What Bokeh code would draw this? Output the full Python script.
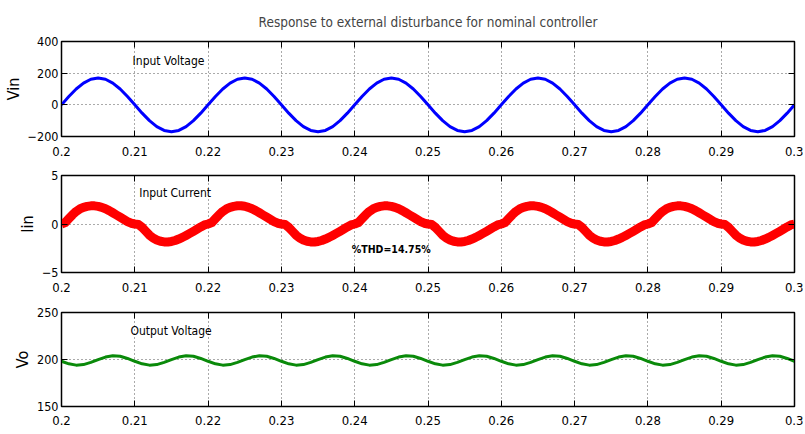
from bokeh.plotting import figure
from bokeh.layouts import column
from bokeh.models import FixedTicker, LinearAxis, Label, Range1d, CustomLabelingPolicy
from bokeh.embed import file_html
from bokeh.resources import INLINE

FONT = "'Liberation Sans Narrow', 'DejaVu Sans Condensed', 'Liberation Sans', sans-serif"

# ---------------- data ----------------
title_text = "Response to external disturbance for nominal controller"
x_ticks = [0.2, 0.21, 0.22, 0.23, 0.24, 0.25, 0.26, 0.27, 0.28, 0.29, 0.3]
x_tick_labels = ["0.2", "0.21", "0.22", "0.23", "0.24", "0.25", "0.26", "0.27", "0.28", "0.29", "0.3"]

vin_ticks = [-200, 0, 200, 400]
vin_tick_labels = ["\u2212200", "0", "200", "400"]
iin_ticks = [-5, 0, 5]
iin_tick_labels = ["\u22125", "0", "5"]
vo_ticks = [150, 200, 250]
vo_tick_labels = ["150", "200", "250"]

# sample times (s)
time_1ms = [round(0.2 + 0.001 * k, 4) for k in range(101)]
time_05ms = [round(0.2 + 0.0005 * k, 5) for k in range(201)]

# input voltage (V), every 1 ms
vin = [
    0.0, 52.5, 100.0, 137.5, 161.7, 170.0, 161.7, 137.5, 100.0, 52.5,
    0.0, -52.5, -100.0, -137.5, -161.7, -170.0, -161.7, -137.5, -100.0, -52.5,
    0.0, 52.5, 100.0, 137.5, 161.7, 170.0, 161.7, 137.5, 100.0, 52.5,
    0.0, -52.5, -100.0, -137.5, -161.7, -170.0, -161.7, -137.5, -100.0, -52.5,
    0.0, 52.5, 100.0, 137.5, 161.7, 170.0, 161.7, 137.5, 100.0, 52.5,
    0.0, -52.5, -100.0, -137.5, -161.7, -170.0, -161.7, -137.5, -100.0, -52.5,
    0.0, 52.5, 100.0, 137.5, 161.7, 170.0, 161.7, 137.5, 100.0, 52.5,
    0.0, -52.5, -100.0, -137.5, -161.7, -170.0, -161.7, -137.5, -100.0, -52.5,
    0.0, 52.5, 100.0, 137.5, 161.7, 170.0, 161.7, 137.5, 100.0, 52.5,
    0.0, -52.5, -100.0, -137.5, -161.7, -170.0, -161.7, -137.5, -100.0, -52.5,
    0.0,
]

# input current (A), every 0.5 ms
iin = [
    0.0, 0.15, 0.55, 0.95, 1.30, 1.55, 1.72, 1.82, 1.87, 1.87,
    1.82, 1.72, 1.57, 1.38, 1.16, 0.93, 0.70, 0.47, 0.25, 0.08,
    0.0, -0.05, -0.35, -0.75, -1.15, -1.45, -1.65, -1.78, -1.85, -1.85,
    -1.80, -1.70, -1.55, -1.38, -1.18, -0.97, -0.75, -0.52, -0.30, -0.10,
    0.0, 0.15, 0.55, 0.95, 1.30, 1.55, 1.72, 1.82, 1.88, 1.88,
    1.83, 1.72, 1.57, 1.38, 1.16, 0.93, 0.70, 0.47, 0.25, 0.08,
    0.0, -0.05, -0.35, -0.75, -1.15, -1.45, -1.65, -1.78, -1.85, -1.86,
    -1.80, -1.70, -1.55, -1.38, -1.18, -0.97, -0.75, -0.52, -0.30, -0.10,
    0.0, 0.15, 0.55, 0.95, 1.30, 1.55, 1.72, 1.82, 1.87, 1.87,
    1.82, 1.72, 1.57, 1.38, 1.16, 0.93, 0.70, 0.47, 0.25, 0.08,
    0.0, -0.05, -0.35, -0.75, -1.15, -1.45, -1.65, -1.78, -1.85, -1.85,
    -1.80, -1.70, -1.55, -1.38, -1.18, -0.97, -0.75, -0.52, -0.30, -0.10,
    0.0, 0.15, 0.55, 0.95, 1.30, 1.55, 1.72, 1.82, 1.88, 1.87,
    1.82, 1.72, 1.57, 1.38, 1.16, 0.93, 0.70, 0.47, 0.25, 0.08,
    0.0, -0.05, -0.35, -0.75, -1.15, -1.45, -1.65, -1.78, -1.85, -1.85,
    -1.80, -1.70, -1.55, -1.38, -1.18, -0.97, -0.75, -0.52, -0.30, -0.10,
    0.0, 0.15, 0.55, 0.95, 1.30, 1.55, 1.72, 1.82, 1.87, 1.87,
    1.82, 1.72, 1.57, 1.38, 1.16, 0.93, 0.70, 0.47, 0.25, 0.08,
    0.0, -0.05, -0.35, -0.75, -1.15, -1.45, -1.65, -1.78, -1.85, -1.85,
    -1.80, -1.70, -1.55, -1.38, -1.18, -0.97, -0.75, -0.52, -0.30, -0.10,
    0.0,
]

# output voltage (V), every 1 ms
vo = [
    198.1, 195.4, 194.0, 194.6, 196.9, 199.9, 202.6, 204.0, 203.4, 201.1,
    198.1, 195.4, 194.0, 194.6, 196.9, 199.9, 202.6, 204.0, 203.4, 201.1,
    198.1, 195.4, 194.0, 194.6, 196.9, 199.9, 202.6, 204.0, 203.4, 201.1,
    198.1, 195.4, 194.0, 194.6, 196.9, 199.9, 202.6, 204.0, 203.4, 201.1,
    198.1, 195.4, 194.0, 194.6, 196.9, 199.9, 202.6, 204.0, 203.4, 201.1,
    198.1, 195.4, 194.0, 194.6, 196.9, 199.9, 202.6, 204.0, 203.4, 201.1,
    198.1, 195.4, 194.0, 194.6, 196.9, 199.9, 202.6, 204.0, 203.4, 201.1,
    198.1, 195.4, 194.0, 194.6, 196.9, 199.9, 202.6, 204.0, 203.4, 201.1,
    198.1, 195.4, 194.0, 194.6, 196.9, 199.9, 202.6, 204.0, 203.4, 201.1,
    198.1, 195.4, 194.0, 194.6, 196.9, 199.9, 202.6, 204.0, 203.4, 201.1,
    198.1,
]

HIDE_LABELS = "for (const i of indices) { indices.unset(i) }\nreturn indices"


def make_fig(height, top, bottom, yr, yticks, ylabels, ylabel, x_standoff):
    p = figure(width=803, height=height,
               x_range=Range1d(0.2, 0.3), y_range=Range1d(*yr),
               output_backend="svg", toolbar_location=None,
               min_border_left=61, min_border_right=9,
               min_border_top=top, min_border_bottom=bottom,
               background_fill_color="white", border_fill_color="white")
    p.outline_line_color = "black"
    p.outline_line_width = 1.5

    xt = FixedTicker(ticks=x_ticks)
    yt = FixedTicker(ticks=yticks)
    p.xaxis.ticker = xt
    p.yaxis.ticker = yt
    p.xaxis.major_label_overrides = dict(zip(x_ticks, x_tick_labels))
    p.yaxis.major_label_overrides = dict(zip(yticks, ylabels))
    p.xgrid.ticker = xt
    p.ygrid.ticker = yt
    for g in (p.xgrid, p.ygrid):
        g.grid_line_color = "#555555"
        g.grid_line_dash = "1 3"
        g.grid_line_width = 1

    for ax in (p.xaxis, p.yaxis):
        ax.major_tick_in = 6
        ax.major_tick_out = 0
        ax.minor_tick_line_color = None
        ax.axis_line_color = "black"
        ax.major_tick_line_color = "black"
        ax.major_label_text_font = FONT
        ax.major_label_text_color = "black"
    p.xaxis.major_label_text_font_size = "13px"
    p.yaxis.major_label_text_font_size = "12.5px"
    p.xaxis.major_label_standoff = x_standoff
    p.yaxis.major_label_standoff = 3
    p.yaxis.axis_label = ylabel
    p.yaxis.axis_label_text_font = FONT
    p.yaxis.axis_label_text_font_size = "16px"
    p.yaxis.axis_label_text_font_style = "normal"
    p.yaxis.axis_label_text_color = "black"
    p.yaxis.axis_label_standoff = 2

    above = LinearAxis(ticker=FixedTicker(ticks=x_ticks),
                       major_label_text_font_size="0px", major_label_standoff=0,
                       major_label_policy=CustomLabelingPolicy(code=HIDE_LABELS),
                       major_tick_in=6, major_tick_out=0,
                       minor_tick_line_color=None, axis_line_color="black")
    right = LinearAxis(ticker=FixedTicker(ticks=yticks),
                       major_label_text_font_size="0px", major_label_standoff=0,
                       major_label_policy=CustomLabelingPolicy(code=HIDE_LABELS),
                       major_tick_in=6, major_tick_out=0,
                       minor_tick_line_color=None, axis_line_color="black")
    p.add_layout(above, "above")
    p.add_layout(right, "right")
    return p


def add_label(p, x, y, text, bold=False, size="12px"):
    p.add_layout(Label(x=x, y=y, text=text, text_font=FONT, text_font_size=size,
                       text_font_style="bold" if bold else "normal",
                       text_baseline="middle", text_align="left", text_color="black"))


p1 = make_fig(165, 41, 29, (-200, 400), vin_ticks, vin_tick_labels, "Vin", 10)
p1.title.text = title_text
p1.title.align = "center"
p1.title.text_font = FONT
p1.title.text_font_size = "13.5px"
p1.title.text_font_style = "normal"
p1.title.standoff = 23
p1.line(time_1ms, vin, line_color="#0000ff", line_width=3, line_join="round")
add_label(p1, 0.2097, 274, "Input Voltage")

p2 = make_fig(136, 10, 29, (-5, 5), iin_ticks, iin_tick_labels, "Iin", 10)
p2.line(time_05ms, iin, line_color="#ff0000", line_width=9, line_join="round")
add_label(p2, 0.2106, 3.15, "Input Current")
add_label(p2, 0.2396, -2.6, "%THD=14.75%", bold=True, size="10.5px")

p3 = make_fig(131, 11, 26, (150, 250), vo_ticks, vo_tick_labels, "Vo", 9)
p3.line(time_1ms, vo, line_color="#0a8a0a", line_width=3, line_join="round")
add_label(p3, 0.2094, 230, "Output Voltage")

layout = column(p1, p2, p3, spacing=0)

with open("out.html", "w") as f:
    f.write(file_html(layout, INLINE))
